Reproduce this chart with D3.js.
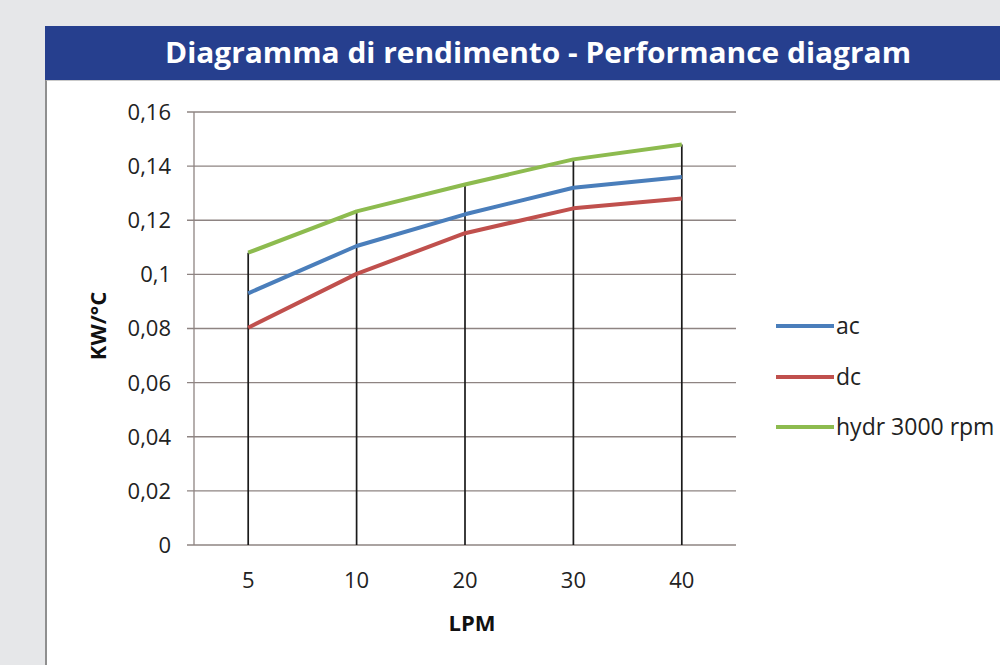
<!DOCTYPE html>
<html>
<head>
<meta charset="utf-8">
<script src="https://cdn.jsdelivr.net/npm/d3@7"></script>
<style>
  html, body { margin: 0; padding: 0; background: #e6e7e9; }
  svg { display: block; }
</style>
</head>
<body>
<svg id="chart" width="1000" height="665"></svg>
<script>
const categories = ["5", "10", "20", "30", "40"];
const acValues   = [0.093, 0.1105, 0.1222, 0.132, 0.136];
const dcValues   = [0.0803, 0.1002, 0.1152, 0.1244, 0.128];
const hydrValues = [0.108, 0.1233, 0.1332, 0.1425, 0.148];
const seriesNames = ["ac", "dc", "hydr 3000 rpm"];
const yTicks = [0, 0.02, 0.04, 0.06, 0.08, 0.1, 0.12, 0.14, 0.16];
const titleText = "Diagramma di rendimento - Performance diagram";
const yLabel = "KW/°C";
const xLabel = "LPM";

const series = [
  { name: seriesNames[0], values: acValues,   color: "#4a7ebb" },
  { name: seriesNames[1], values: dcValues,   color: "#c0504d" },
  { name: seriesNames[2], values: hydrValues, color: "#8dbb4f" }
];

const svg = d3.select("#chart");
const font = "'Open Sans', 'DejaVu Sans', sans-serif";

// background + panel
svg.append("rect").attr("x", 0).attr("y", 0).attr("width", 1000).attr("height", 665).attr("fill", "#e6e7e9");
svg.append("rect").attr("x", 46).attr("y", 79).attr("width", 954).attr("height", 586).attr("fill", "#ffffff");
svg.append("line").attr("x1", 46).attr("x2", 46).attr("y1", 79).attr("y2", 665)
  .attr("stroke", "#8f8f8f").attr("stroke-width", 2);
svg.append("line").attr("x1", 46).attr("x2", 1000).attr("y1", 80).attr("y2", 80)
  .attr("stroke", "#b8b8b8").attr("stroke-width", 1.5);

// title band
svg.append("rect").attr("x", 45).attr("y", 26).attr("width", 955).attr("height", 54).attr("fill", "#263f8e");
svg.append("text").attr("x", 538).attr("y", 63).attr("text-anchor", "middle")
  .attr("fill", "#ffffff").attr("font-family", font).attr("font-weight", 700)
  .attr("font-size", 29).attr("textLength", 746).attr("lengthAdjust", "spacingAndGlyphs")
  .text(titleText);

// plot area
const pLeft = 194, pRight = 736, pTop = 112, pBottom = 545;
const x = d3.scaleBand().domain(categories).range([pLeft, pRight]);
const y = d3.scaleLinear().domain([0, 0.16]).range([pBottom, pTop]);
const cx = c => x(c) + x.bandwidth() / 2;

const gridColor = "#8e8482";
const g = svg.append("g");

// horizontal gridlines with left ticks
g.selectAll("line.grid").data(yTicks).enter().append("line")
  .attr("x1", pLeft - 7).attr("x2", pRight)
  .attr("y1", d => y(d)).attr("y2", d => y(d))
  .attr("stroke", gridColor).attr("stroke-width", 1.3);

// y axis line
g.append("line").attr("x1", pLeft).attr("x2", pLeft).attr("y1", pTop).attr("y2", pBottom)
  .attr("stroke", gridColor).attr("stroke-width", 1.3);

// y tick labels
const fmt = d => d === 0 ? "0" : String(+d.toFixed(2)).replace(".", ",");
g.selectAll("text.ytick").data(yTicks).enter().append("text")
  .attr("x", pLeft - 23).attr("y", d => y(d)).attr("dy", "0.36em")
  .attr("text-anchor", "end").attr("font-family", font).attr("font-size", 22)
  .attr("fill", "#222").text(fmt);

// x tick labels
g.selectAll("text.xtick").data(categories).enter().append("text")
  .attr("x", d => cx(d)).attr("y", 588)
  .attr("text-anchor", "middle").attr("font-family", font).attr("font-size", 22)
  .attr("fill", "#222").text(d => d);

// drop lines (from highest point to axis)
g.selectAll("line.drop").data(categories).enter().append("line")
  .attr("x1", d => cx(d)).attr("x2", d => cx(d))
  .attr("y1", (d, i) => y(d3.max(series, s => s.values[i])))
  .attr("y2", pBottom)
  .attr("stroke", "#1a1a1a").attr("stroke-width", 1.7);

// series lines
const line = d3.line().x((d, i) => cx(categories[i])).y(d => y(d));
series.forEach(s => {
  g.append("path").datum(s.values).attr("d", line)
    .attr("fill", "none").attr("stroke", s.color).attr("stroke-width", 4)
    .attr("stroke-linejoin", "round");
});

// axis titles
svg.append("text").attr("transform", "translate(106,326) rotate(-90)")
  .attr("text-anchor", "middle").attr("font-family", font).attr("font-weight", 700)
  .attr("font-size", 22).attr("fill", "#111").text(yLabel);
svg.append("text").attr("x", 472).attr("y", 631).attr("text-anchor", "middle")
  .attr("font-family", font).attr("font-weight", 700).attr("font-size", 22)
  .attr("fill", "#111").text(xLabel);

// legend
const legY = [326, 377, 427];
const leg = svg.append("g");
series.forEach((s, i) => {
  leg.append("line").attr("x1", 776).attr("x2", 834).attr("y1", legY[i]).attr("y2", legY[i])
    .attr("stroke", s.color).attr("stroke-width", 4);
  leg.append("text").attr("x", 836).attr("y", legY[i]).attr("dy", "0.34em")
    .attr("font-family", font).attr("font-size", 23).attr("fill", "#222").text(s.name);
});
</script>
</body>
</html>
